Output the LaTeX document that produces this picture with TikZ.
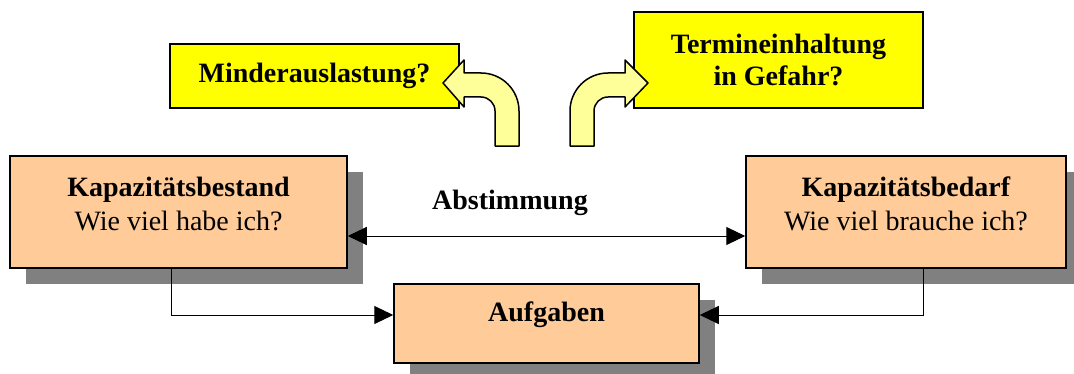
\documentclass[tikz,border=0pt]{standalone}
\usepackage{fontspec}
\setmainfont{Liberation Serif}
\usetikzlibrary{arrows.meta,shadows,positioning}

\definecolor{peach}{HTML}{FFCC99}
\definecolor{lemon}{HTML}{FFFF00}
\definecolor{paleyellow}{HTML}{FFFF99}
\definecolor{shade}{HTML}{808080}

\begin{document}
\begin{tikzpicture}[x=1pt, y=1pt, >={Triangle[length=19pt,width=18pt]},
  every node/.style={font=\fontsize{28}{34}\selectfont},
  box/.style={draw, line width=1.5pt, fill=peach, align=center,
    drop shadow={shadow xshift=16pt, shadow yshift=-16pt, fill=shade, opacity=1}},
  note/.style={draw, line width=1.5pt, fill=lemon, align=center,
    font=\fontsize{28}{32}\selectfont\bfseries},
  conn/.style={line width=1pt},
  bentarrow/.style={draw, line width=1.5pt, fill=paleyellow, line join=round}]
  \useasboundingbox (0,0) rectangle (1074,373);

  % Boxes
  \node[box, minimum width=337pt, minimum height=112pt, text depth=16pt] (bestand) at (178.5,161)
    {\textbf{Kapazitätsbestand}\\Wie viel habe ich?};
  \node[box, minimum width=320pt, minimum height=112pt, text depth=16pt] (bedarf) at (906,161)
    {\textbf{Kapazitätsbedarf}\\Wie viel brauche ich?};
  \node[box, minimum width=305pt, minimum height=79pt, text depth=24pt, font=\fontsize{28}{34}\selectfont\bfseries] (aufgaben) at (546.5,49.5)
    {Aufgaben};

  % Questions
  \node[note, minimum width=289pt, minimum height=64pt] (minder) at (314.5,297) {Minderauslastung?};
  \node[note, minimum width=289pt, minimum height=96pt] (termin) at (778.5,313) {Termineinhaltung\\in Gefahr?};

  % Connectors
  \draw[conn, <->] ([yshift=-24pt]bestand.east) -- ([yshift=-24pt]bedarf.west);
  \node[font=\fontsize{28}{34}\selectfont\bfseries] (abst) at (510,170) {Abstimmung};
  \draw[conn, ->] ([xshift=-7.5pt]bestand.south) |- ([yshift=8.5pt]aufgaben.west);
  \draw[conn, ->] ([xshift=17pt]bedarf.south) |- ([yshift=8.5pt]aufgaben.east);

  % Bent arrows
  \draw[bentarrow] (495,227) -- (519,227) -- (519,262) arc[start angle=0, end angle=90, radius=38]
    -- (464,300) -- (464,313) -- (443,290) -- (464,266) -- (464,276) -- (481,276)
    arc[start angle=90, end angle=0, radius=14] -- cycle;
  \draw[bentarrow] (570,227) -- (570,262) arc[start angle=180, end angle=90, radius=38]
    -- (625,300) -- (625,313) -- (648,290) -- (625,266) -- (625,276) -- (608,276)
    arc[start angle=90, end angle=180, radius=14] -- (594,227) -- cycle;
\end{tikzpicture}
\end{document}
